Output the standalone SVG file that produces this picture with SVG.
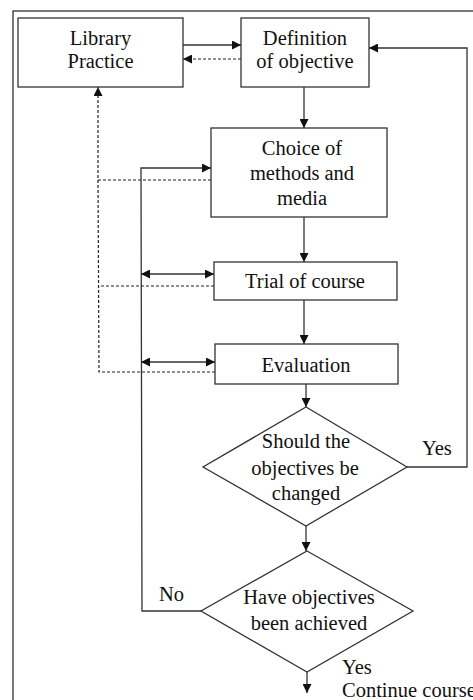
<svg xmlns="http://www.w3.org/2000/svg" width="473" height="700" viewBox="0 0 473 700">
<defs>
<marker id="ah" viewBox="0 0 10 10" refX="10" refY="5" markerWidth="10" markerHeight="9" markerUnits="userSpaceOnUse" orient="auto-start-reverse">
<path d="M0,0 L10,5 L0,10 z" fill="#111"/>
</marker>
<style>
.box{fill:#fff;stroke:#333;stroke-width:1.3}
.ln{fill:none;stroke:#333;stroke-width:1.3}
.dash{fill:none;stroke:#222;stroke-width:1.2;stroke-dasharray:3 2}
text{font-family:"Liberation Serif","Times New Roman",serif;font-size:20.5px;fill:#111}
.c{text-anchor:middle}
</style>
</defs>
<rect width="473" height="700" fill="#fff"/>
<rect x="13" y="11" width="500" height="720" class="box"/>
<g id="connectors">
<line x1="183" y1="45" x2="241" y2="45" class="ln" marker-end="url(#ah)"/>
<line x1="241" y1="59" x2="183" y2="59" class="dash" marker-end="url(#ah)"/>
<polyline points="407,467 467,467 467,48 369,48" class="ln" marker-end="url(#ah)"/>
<line x1="304" y1="87" x2="304" y2="128" class="ln" marker-end="url(#ah)"/>
<polyline points="211,180 98,180 98,87" class="dash" marker-end="url(#ah)"/>
<polyline points="214,286 98,286" class="dash"/>
<polyline points="215,372 99,372 98,180" class="dash"/>
<polyline points="201,611 142,611 141,168 211,168" class="ln" marker-end="url(#ah)"/>
<line x1="304" y1="217" x2="304" y2="262" class="ln" marker-end="url(#ah)"/>
<line x1="141" y1="274" x2="214" y2="274" class="ln" marker-start="url(#ah)" marker-end="url(#ah)"/>
<line x1="304" y1="300" x2="304" y2="344" class="ln" marker-end="url(#ah)"/>
<line x1="141" y1="362" x2="215" y2="362" class="ln" marker-start="url(#ah)" marker-end="url(#ah)"/>
<line x1="306" y1="384" x2="306" y2="407" class="ln" marker-end="url(#ah)"/>
<line x1="306" y1="526" x2="306" y2="551" class="ln" marker-end="url(#ah)"/>
<line x1="307" y1="672" x2="307" y2="693" class="ln" marker-end="url(#ah)"/>
<text x="422" y="455">Yes</text>
<text x="159" y="601">No</text>
<text x="342" y="674">Yes</text>
<text x="342" y="697">Continue course</text>
</g>
<g id="library">
<rect x="18" y="18" width="165" height="69" class="box"/>
<text x="100.5" y="45" class="c">Library</text>
<text x="100.5" y="68" class="c">Practice</text>
</g>
<g id="definition">
<rect x="241" y="18" width="128" height="69" class="box"/>
<text x="305" y="45" class="c">Definition</text>
<text x="305" y="68" class="c">of objective</text>
</g>
<g id="choice">
<rect x="211" y="128" width="176" height="89" class="box"/>
<text x="302" y="155" class="c">Choice of</text>
<text x="302" y="180" class="c">methods and</text>
<text x="302" y="205" class="c">media</text>
</g>
<g id="trial">
<rect x="214" y="262" width="183" height="38" class="box"/>
<text x="305" y="288" class="c">Trial of course</text>
</g>
<g id="evaluation">
<rect x="215" y="344" width="183" height="40" class="box"/>
<text x="306" y="372" class="c">Evaluation</text>
</g>
<g id="should-change">
<polygon points="306,407 407,467 306,526 203,467" class="box"/>
<text x="306" y="448" class="c">Should the</text>
<text x="305" y="475" class="c">objectives be</text>
<text x="306" y="500" class="c">changed</text>
</g>
<g id="achieved">
<polygon points="307,551 413,611 307,672 201,611" class="box"/>
<text x="309" y="604" class="c">Have objectives</text>
<text x="309" y="630" class="c">been achieved</text>
</g>
</svg>
